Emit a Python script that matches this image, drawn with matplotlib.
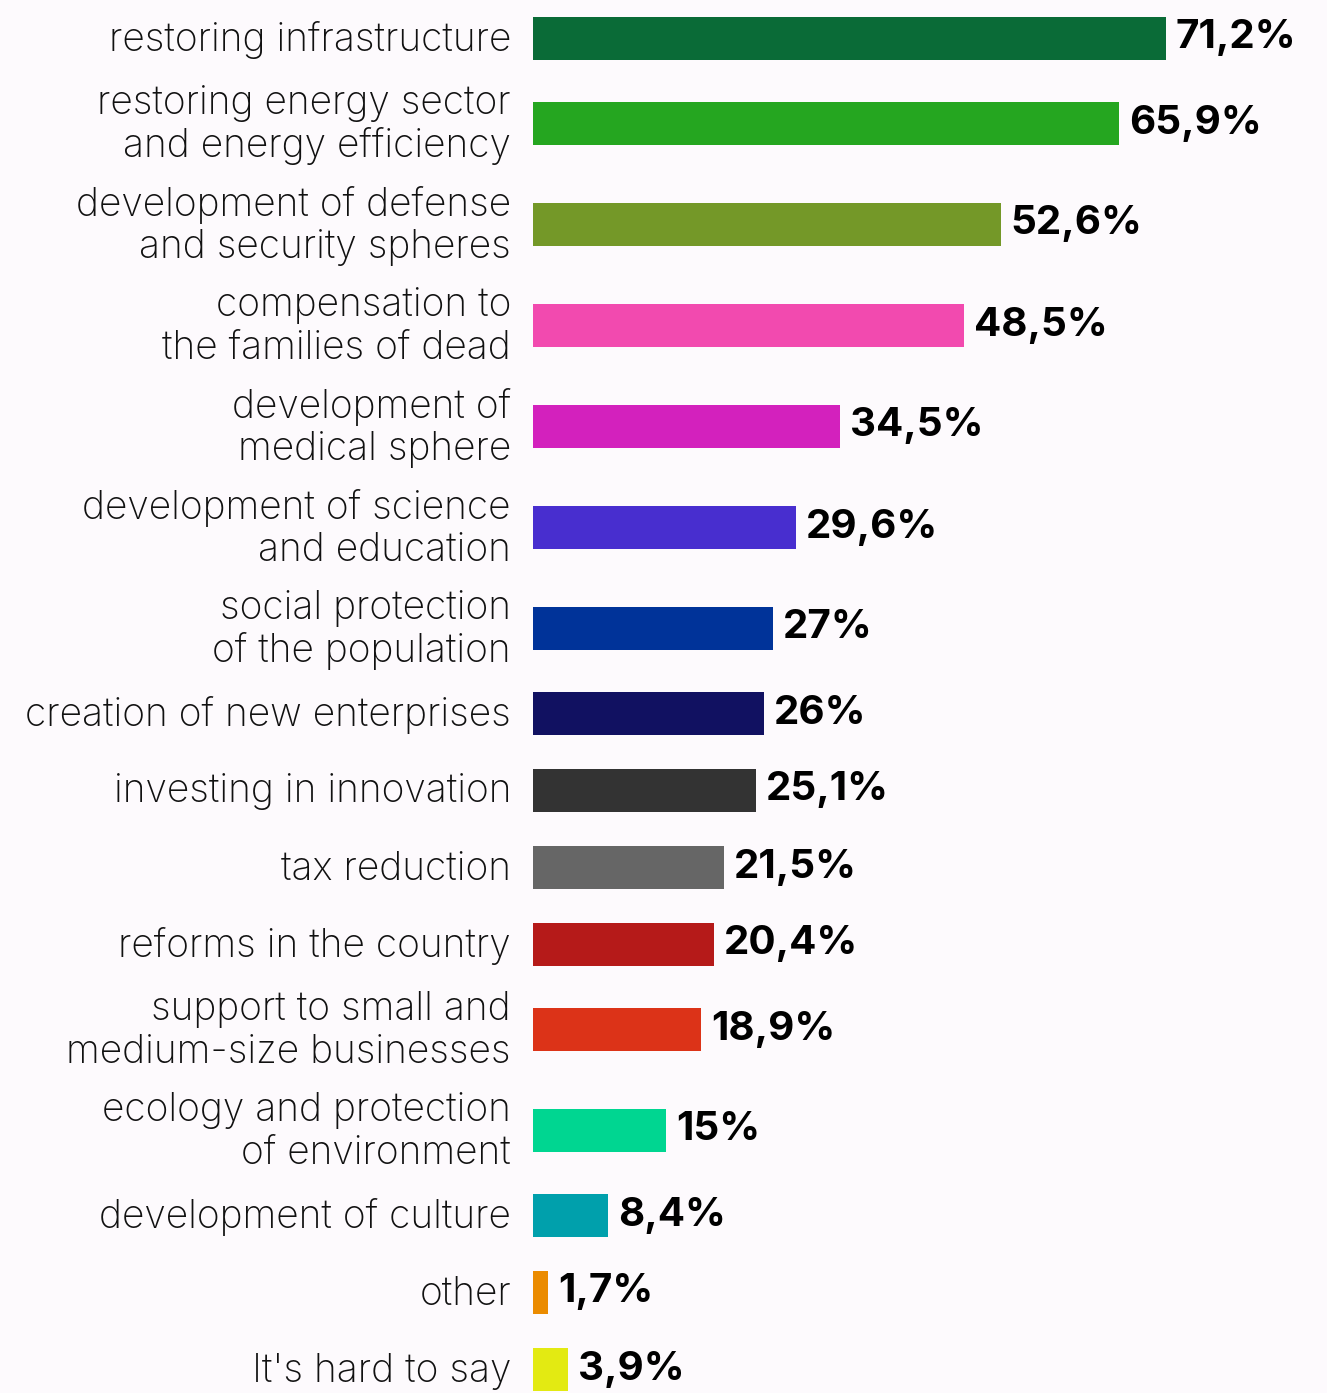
import matplotlib.pyplot as plt

# ==========================================
# DADOS
# ==========================================
categorias = [
    "restoring infrastructure",
    "restoring energy sector\nand energy efficiency",
    "development of defense\nand security spheres",
    "compensation to\nthe families of dead",
    "development of\nmedical sphere",
    "development of science\nand education",
    "social protection\nof the population",
    "creation of new enterprises",
    "investing in innovation",
    "tax reduction",
    "reforms in the country",
    "support to small and\nmedium-size businesses",
    "ecology and protection\nof environment",
    "development of culture",
    "other",
    "It's hard to say",
]
valores = [71.2, 65.9, 52.6, 48.5, 34.5, 29.6, 27, 26, 25.1, 21.5, 20.4, 18.9, 15, 8.4, 1.7, 3.9]
cores = [
    "#0A6B37", "#25A620", "#749828", "#F24AAF", "#D321BD", "#482ECF",
    "#003399", "#111161", "#333333", "#666666", "#B51A19", "#DC3318",
    "#00D691", "#00A0AC", "#EB8B00", "#E3EA12",
]

# ==========================================
# LAYOUT (pixels)
# ==========================================
W, H = 1327, 1393
fundo = "#FDFAFD"
x0_px = 533          # inicio das barras
px_por_pct = 8.89    # escala horizontal
altura_barra = 43

# posicoes verticais calculadas a partir do numero de linhas de cada rotulo
extra = [c.count("\n") for c in categorias]
posicoes = [38]
for i in range(1, len(categorias)):
    a, b = extra[i - 1], extra[i]
    gap = 77 + 8 * (a + b) + 8 * (a * b)
    posicoes.append(posicoes[-1] + gap)

fig = plt.figure(figsize=(W / 100, H / 100), dpi=100, facecolor=fundo)
ax = fig.add_axes([x0_px / W, 0, 1 - x0_px / W, 1])
ax.set_facecolor(fundo)

ax.barh(posicoes, valores, height=altura_barra, color=cores)

ax.set_xlim(0, (W - x0_px) / px_por_pct)
ax.set_ylim(H, 0)
ax.axis("off")

off_label = -22 / px_por_pct
off_valor = 10 / px_por_pct
for y, cat, v in zip(posicoes, categorias, valores):
    ax.text(off_label, y + 2, cat, ha="right", va="center", fontsize=28,
            family="Inter", fontweight="light", color="#111111",
            linespacing=1.18, clip_on=False)
    txt = (f"{v:.1f}" if v != int(v) else f"{int(v)}").replace(".", ",") + "%"
    ax.text(v + off_valor, y, txt, ha="left", va="center", fontsize=29,
            family="Inter", fontweight="bold", color="#000000", clip_on=False)

plt.savefig("out.png", dpi=100, facecolor=fundo)
